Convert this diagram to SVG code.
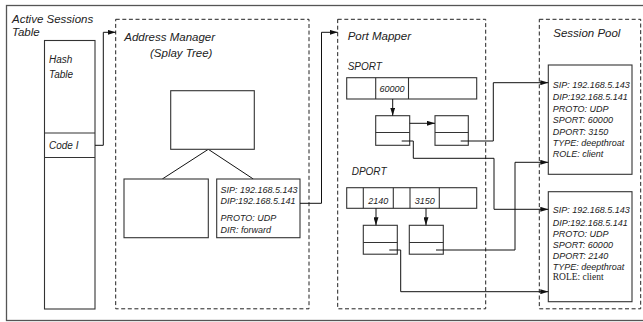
<svg xmlns="http://www.w3.org/2000/svg" width="643" height="322" viewBox="0 0 643 322">
  <style>
    .frame { fill: none; stroke: #555; stroke-width: 1.3; }
    .box { fill: #fff; stroke: #333; stroke-width: 1.1; }
    .dash { fill: none; stroke: #222; stroke-width: 1; stroke-dasharray: 4 2.6; }
    .edge { fill: none; stroke: #111; stroke-width: 1; }
    .wire { fill: none; stroke: #111; stroke-width: 1; marker-end: url(#arrow); }
    text { font-family: "Liberation Sans", Arial, sans-serif; font-style: italic; fill: #222; }
    .title { font-size: 11.5px; }
    .label { font-size: 10px; }
    .val { font-size: 9px; }
    .rec { font-size: 9px; }
    .serif { font-family: "Liberation Serif", "Times New Roman", serif; font-style: normal; font-size: 9.5px; }
  </style>
  <defs>
    <marker id="arrow" markerUnits="userSpaceOnUse" markerWidth="8" markerHeight="5" refX="8" refY="2.5" orient="auto">
      <path d="M0,0 L8,2.5 L0,5 z" fill="#111"/>
    </marker>
  </defs>

  <rect width="643" height="322" fill="#fff"/>
  <!-- outer frame (right edge runs past the page) -->
  <rect class="frame" x="6.5" y="5.5" width="660" height="315"/>

  <!-- Active Sessions Table -->
  <g id="active-sessions">
    <text class="title" x="12" y="23">Active Sessions</text>
    <text class="title" x="12" y="35.5">Table</text>
    <rect class="box" x="44.5" y="40.5" width="50.5" height="268.5"/>
    <line class="box" x1="44.5" y1="133" x2="95" y2="133"/>
    <line class="box" x1="44.5" y1="157.5" x2="95" y2="157.5"/>
    <text class="label" x="49" y="63">Hash</text>
    <text class="label" x="49" y="78">Table</text>
    <text class="label" x="49" y="149">Code I</text>
  </g>

  <!-- Address Manager -->
  <g id="address-manager">
    <rect class="dash" x="115.7" y="19.3" width="193.3" height="289.5"/>
    <text class="title" x="124.3" y="40.5">Address Manager</text>
    <text class="title" x="150" y="57">(Splay Tree)</text>
    <line class="edge" x1="208.3" y1="149.3" x2="162.3" y2="179"/>
    <line class="edge" x1="208.3" y1="149.3" x2="253.3" y2="179"/>
    <rect id="tree-root" class="box" x="170.7" y="90.7" width="83.6" height="58.6"/>
    <rect id="tree-left" class="box" x="124" y="179" width="84.3" height="58.7"/>
    <g id="tree-right">
      <rect class="box" x="216.7" y="179" width="83.3" height="58.7"/>
      <text class="rec" x="220.5" y="192.7">SIP: 192.168.5.143</text>
      <text class="rec" x="220.5" y="204">DIP:192.168.5.141</text>
      <text class="rec" x="220.5" y="221">PROTO: UDP</text>
      <text class="rec" x="220.5" y="233">DIR: forward</text>
    </g>
  </g>

  <!-- Port Mapper -->
  <g id="port-mapper">
    <rect class="dash" x="337.7" y="19.3" width="148" height="289.5"/>
    <text class="title" x="347.7" y="40">Port Mapper</text>

    <g id="sport">
      <text class="label" x="347.7" y="70">SPORT</text>
      <rect class="box" x="346.7" y="77.7" width="130" height="21.3"/>
      <line class="box" x1="375.7" y1="77.7" x2="375.7" y2="99"/>
      <line class="box" x1="408.5" y1="77.7" x2="408.5" y2="99"/>
      <text class="val" x="392" y="91.5" text-anchor="middle">60000</text>
    </g>
    <g id="sport-node-1">
      <rect class="box" x="375.7" y="115.7" width="34" height="29.6"/>
      <line class="box" x1="375.7" y1="132.5" x2="409.7" y2="132.5"/>
    </g>
    <g id="sport-node-2">
      <rect class="box" x="435" y="115.7" width="33.3" height="29.6"/>
      <line class="box" x1="435" y1="132.5" x2="468.3" y2="132.5"/>
    </g>

    <g id="dport">
      <text class="label" x="351.7" y="175">DPORT</text>
      <rect class="box" x="346.7" y="187.7" width="130" height="20.6"/>
      <line class="box" x1="363.3" y1="187.7" x2="363.3" y2="208.3"/>
      <line class="box" x1="393.3" y1="187.7" x2="393.3" y2="208.3"/>
      <line class="box" x1="410" y1="187.7" x2="410" y2="208.3"/>
      <line class="box" x1="439.3" y1="187.7" x2="439.3" y2="208.3"/>
      <text class="val" x="378.3" y="204" text-anchor="middle">2140</text>
      <text class="val" x="424.7" y="204" text-anchor="middle">3150</text>
    </g>
    <g id="dport-node-1">
      <rect class="box" x="363.3" y="225.3" width="34" height="28.9"/>
      <line class="box" x1="363.3" y1="242.5" x2="397.3" y2="242.5"/>
    </g>
    <g id="dport-node-2">
      <rect class="box" x="409.3" y="225.3" width="34" height="28.9"/>
      <line class="box" x1="409.3" y1="242.5" x2="443.3" y2="242.5"/>
    </g>
  </g>

  <!-- Session Pool -->
  <g id="session-pool">
    <rect class="dash" x="539.3" y="19.3" width="101.4" height="289.5"/>
    <text class="title" x="553.3" y="36.5">Session Pool</text>
    <g id="session-1">
      <rect class="box" x="548.3" y="65" width="83.7" height="109.3"/>
      <text class="rec" x="552.7" y="87.5">SIP: 192.168.5.143</text>
      <text class="rec" x="552.7" y="100">DIP:192.168.5.141</text>
      <text class="rec" x="552.7" y="111.5">PROTO: UDP</text>
      <text class="rec" x="552.7" y="123.3">SPORT: 60000</text>
      <text class="rec" x="552.7" y="135">DPORT: 3150</text>
      <text class="rec" x="552.7" y="146">TYPE: deepthroat</text>
      <text class="rec" x="552.7" y="156.5">ROLE: client</text>
    </g>
    <g id="session-2">
      <rect class="box" x="548.3" y="191.7" width="83.7" height="110"/>
      <text class="rec" x="552.7" y="213.3">SIP: 192.168.5.143</text>
      <text class="rec" x="552.7" y="225.7">DIP:192.168.5.141</text>
      <text class="rec" x="552.7" y="236.7">PROTO: UDP</text>
      <text class="rec" x="552.7" y="248.3">SPORT: 60000</text>
      <text class="rec" x="552.7" y="259.3">DPORT: 2140</text>
      <text class="rec" x="552.7" y="270">TYPE: deepthroat</text>
      <text class="serif" x="552.7" y="280">ROLE: client</text>
    </g>
  </g>

  <!-- connectors -->
  <g id="connectors">
    <polyline class="wire" points="95,145.3 103.3,145.3 103.3,32.3 115.7,32.3"/>
    <polyline class="wire" points="300,203.3 321.5,203.3 321.5,32.3 337.7,32.3"/>
    <polyline class="wire" points="392.7,99 392.7,115.7"/>
    <polyline class="wire" points="409.7,123.3 435,123.3"/>
    <polyline class="wire" points="376,208.3 376,225.3"/>
    <polyline class="wire" points="426,208.3 426,225.3"/>
    <polyline class="wire" points="460.7,141 493.3,141 493.3,82.7 548.3,82.7"/>
    <polyline class="wire" points="401.7,141 413.3,141 413.3,158.3 494,158.3 494,209.3 548.3,209.3"/>
    <polyline class="wire" points="436,250 515,250 515,162.3 548.3,162.3"/>
    <polyline class="wire" points="389.3,250 400.7,250 400.7,291.7 548.3,291.7"/>
  </g>
</svg>
